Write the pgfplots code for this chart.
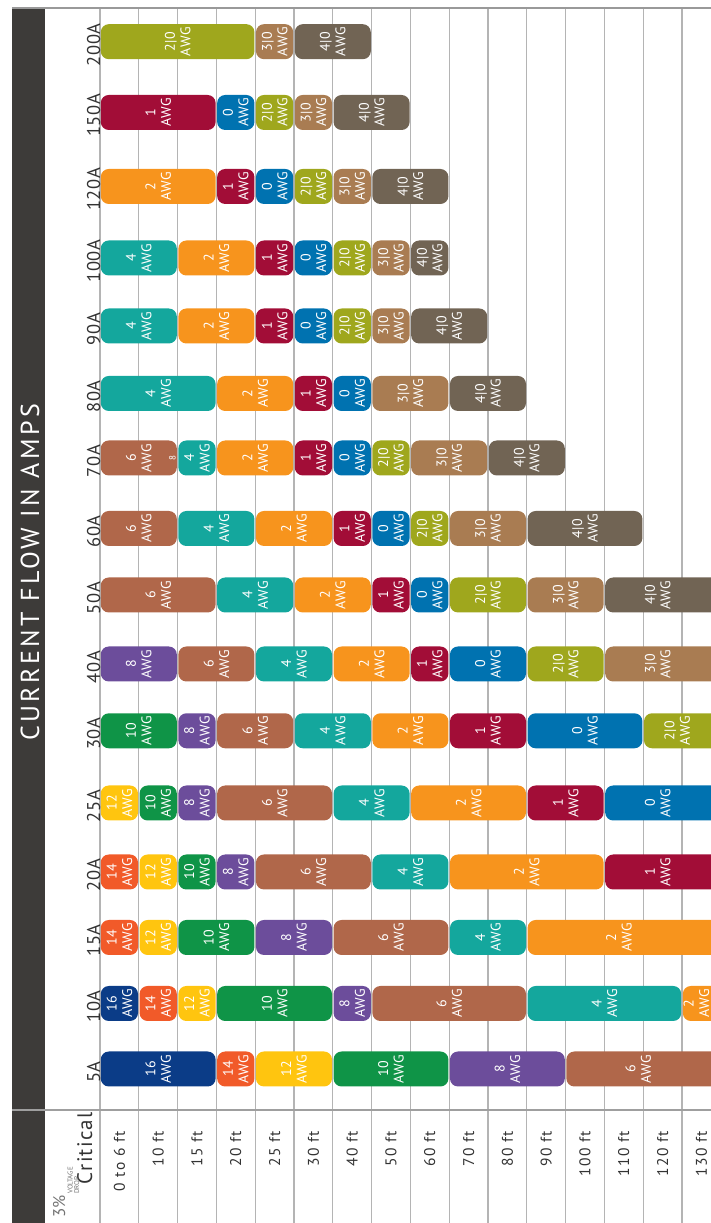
\documentclass[border=0pt]{standalone}
\usepackage{fontspec}
\setmainfont{PT Sans}
\setsansfont{PT Sans}
\usepackage{pgfplots}
\pgfplotsset{compat=1.18}
\definecolor{g16}{HTML}{0B3C87}
\definecolor{g14}{HTML}{F15A29}
\definecolor{g12}{HTML}{FFC50F}
\definecolor{g10}{HTML}{0F9447}
\definecolor{g8}{HTML}{6C4D9B}
\definecolor{g6}{HTML}{B0674A}
\definecolor{g4}{HTML}{14A79D}
\definecolor{g2}{HTML}{F7941D}
\definecolor{g1}{HTML}{A20D37}
\definecolor{g0}{HTML}{0072B0}
\definecolor{g20}{HTML}{9FA71D}
\definecolor{g30}{HTML}{A97C52}
\definecolor{g40}{HTML}{716454}
\definecolor{band}{HTML}{3D3B39}
\definecolor{gridc}{HTML}{B4B4B4}
\definecolor{txt}{HTML}{333333}
\tikzset{lbl/.style={text=white, rotate=90, align=center, inner sep=0pt,
  font=\fontsize{14}{15.5}\selectfont\addfontfeatures{LetterSpace=4}},
  amp/.style={rotate=90, anchor=base, inner sep=0pt, xshift=-3pt, text=txt,
  font=\fontsize{18.5}{18.5}\selectfont\addfontfeatures{LetterSpace=3}}}
\newcommand\B[5]{%
  \pgfmathsetmacro\BYa{#3-17.5}\pgfmathsetmacro\BYb{#3+17.5}%
  \pgfmathsetmacro\BXa{#1+0.02}\pgfmathsetmacro\BXb{#2-0.02}%
  \addplot[fill=#4, draw=none, rounded corners=8pt] coordinates {(\BXa,\BYa) (\BXb,\BYa) (\BXb,\BYb) (\BXa,\BYb)} -- cycle;
  \node[lbl] at (axis cs:{(#1+min(#2,15.747))/2},#3) {#5\\AWG};
}
\begin{document}
\begin{tikzpicture}
\path[use as bounding box] (0pt,0pt) rectangle (711pt,1223pt);
\fill[band] (12pt,0pt) rectangle (45pt,1215pt);
\begin{axis}[at={(100pt,0pt)}, anchor=south west,
  width=611pt, height=1215pt, scale only axis, clip=false,
  xmin=0, xmax=15.747, ymin=0, ymax=1215,
  axis line style={draw=none}, tick style={draw=none}, major tick length=0pt,
  xtick={1,...,15}, xticklabels={}, xmajorgrids,
  extra x ticks={0}, extra x tick labels={},
  extra x tick style={grid style={color=gray!75!black, line width=1.4pt}},
  major grid style={color=gridc, line width=1.1pt},
  ytick=\empty,
]
% 5A
\B{0}{3}{154}{g16}{16}
\B{3}{4}{154}{g14}{14}
\B{4}{6}{154}{g12}{12}
\B{6}{9}{154}{g10}{10}
\B{9}{12}{154}{g8}{8}
\B{12}{17}{154}{g6}{6}
% 10A
\B{0}{1}{219.5}{g16}{16}
\B{1}{2}{219.5}{g14}{14}
\B{2}{3}{219.5}{g12}{12}
\B{3}{6}{219.5}{g10}{10}
\B{6}{7}{219.5}{g8}{8}
\B{7}{11}{219.5}{g6}{6}
\B{11}{15}{219.5}{g4}{4}
\B{15}{17}{219.5}{g2}{2}
% 15A
\B{0}{1}{285.5}{g14}{14}
\B{1}{2}{285.5}{g12}{12}
\B{2}{4}{285.5}{g10}{10}
\B{4}{6}{285.5}{g8}{8}
\B{6}{9}{285.5}{g6}{6}
\B{9}{11}{285.5}{g4}{4}
\B{11}{17}{285.5}{g2}{2}
% 20A
\B{0}{1}{351}{g14}{14}
\B{1}{2}{351}{g12}{12}
\B{2}{3}{351}{g10}{10}
\B{3}{4}{351}{g8}{8}
\B{4}{7}{351}{g6}{6}
\B{7}{9}{351}{g4}{4}
\B{9}{13}{351}{g2}{2}
\B{13}{17}{351}{g1}{1}
% 25A
\B{0}{1}{420}{g12}{12}
\B{1}{2}{420}{g10}{10}
\B{2}{3}{420}{g8}{8}
\B{3}{6}{420}{g6}{6}
\B{6}{8}{420}{g4}{4}
\B{8}{11}{420}{g2}{2}
\B{11}{13}{420}{g1}{1}
\B{13}{17}{420}{g0}{0}
% 30A
\B{0}{2}{492.2}{g10}{10}
\B{2}{3}{492.2}{g8}{8}
\B{3}{5}{492.2}{g6}{6}
\B{5}{7}{492.2}{g4}{4}
\B{7}{9}{492.2}{g2}{2}
\B{9}{11}{492.2}{g1}{1}
\B{11}{14}{492.2}{g0}{0}
\B{14}{17}{492.2}{g20}{2|0}
% 40A
\B{0}{2}{559}{g8}{8}
\B{2}{4}{559}{g6}{6}
\B{4}{6}{559}{g4}{4}
\B{6}{8}{559}{g2}{2}
\B{8}{9}{559}{g1}{1}
\B{9}{11}{559}{g0}{0}
\B{11}{13}{559}{g20}{2|0}
\B{13}{17}{559}{g30}{3|0}
% 50A
\B{0}{3}{628}{g6}{6}
\B{3}{5}{628}{g4}{4}
\B{5}{7}{628}{g2}{2}
\B{7}{8}{628}{g1}{1}
\B{8}{9}{628}{g0}{0}
\B{9}{11}{628}{g20}{2|0}
\B{11}{13}{628}{g30}{3|0}
\B{13}{17}{628}{g40}{4|0}
% 60A
\B{0}{2}{694.5}{g6}{6}
\B{2}{4}{694.5}{g4}{4}
\B{4}{6}{694.5}{g2}{2}
\B{6}{7}{694.5}{g1}{1}
\B{7}{8}{694.5}{g0}{0}
\B{8}{9}{694.5}{g20}{2|0}
\B{9}{11}{694.5}{g30}{3|0}
\B{11}{14}{694.5}{g40}{4|0}
% 70A
\B{0}{2}{765}{g6}{6}
\B{2}{3}{765}{g4}{4}
\B{3}{5}{765}{g2}{2}
\B{5}{6}{765}{g1}{1}
\B{6}{7}{765}{g0}{0}
\B{7}{8}{765}{g20}{2|0}
\B{8}{10}{765}{g30}{3|0}
\B{10}{12}{765}{g40}{4|0}
\node[text=white, rotate=90, inner sep=0pt, font=\fontsize{9}{9}\selectfont] at (axis cs:1.87,765) {8};
% 80A
\B{0}{3}{829.5}{g4}{4}
\B{3}{5}{829.5}{g2}{2}
\B{5}{6}{829.5}{g1}{1}
\B{6}{7}{829.5}{g0}{0}
\B{7}{9}{829.5}{g30}{3|0}
\B{9}{11}{829.5}{g40}{4|0}
% 90A
\B{0}{2}{897}{g4}{4}
\B{2}{4}{897}{g2}{2}
\B{4}{5}{897}{g1}{1}
\B{5}{6}{897}{g0}{0}
\B{6}{7}{897}{g20}{2|0}
\B{7}{8}{897}{g30}{3|0}
\B{8}{10}{897}{g40}{4|0}
% 100A
\B{0}{2}{965}{g4}{4}
\B{2}{4}{965}{g2}{2}
\B{4}{5}{965}{g1}{1}
\B{5}{6}{965}{g0}{0}
\B{6}{7}{965}{g20}{2|0}
\B{7}{8}{965}{g30}{3|0}
\B{8}{9}{965}{g40}{4|0}
% 120A
\B{0}{3}{1036.5}{g2}{2}
\B{3}{4}{1036.5}{g1}{1}
\B{4}{5}{1036.5}{g0}{0}
\B{5}{6}{1036.5}{g20}{2|0}
\B{6}{7}{1036.5}{g30}{3|0}
\B{7}{9}{1036.5}{g40}{4|0}
% 150A
\B{0}{3}{1110.5}{g1}{1}
\B{3}{4}{1110.5}{g0}{0}
\B{4}{5}{1110.5}{g20}{2|0}
\B{5}{6}{1110.5}{g30}{3|0}
\B{6}{8}{1110.5}{g40}{4|0}
% 200A
\B{0}{4}{1181.3}{g20}{2|0}
\B{4}{5}{1181.3}{g30}{3|0}
\B{5}{7}{1181.3}{g40}{4|0}
% amp labels
\node[amp] at (axis cs:0,154) {5A};
\node[amp] at (axis cs:0,219.5) {10A};
\node[amp] at (axis cs:0,285.5) {15A};
\node[amp] at (axis cs:0,351) {20A};
\node[amp] at (axis cs:0,420) {25A};
\node[amp] at (axis cs:0,492.2) {30A};
\node[amp] at (axis cs:0,559) {40A};
\node[amp] at (axis cs:0,628) {50A};
\node[amp] at (axis cs:0,694.5) {60A};
\node[amp] at (axis cs:0,765) {70A};
\node[amp] at (axis cs:0,829.5) {80A};
\node[amp] at (axis cs:0,897) {90A};
\node[amp] at (axis cs:0,965) {100A};
\node[amp] at (axis cs:0,1036.5) {120A};
\node[amp] at (axis cs:0,1110.5) {150A};
\node[amp] at (axis cs:0,1181.3) {200A};
% distance labels
\foreach \lab [count=\i from 0] in {0 to 6 ft,10 ft,15 ft,20 ft,25 ft,30 ft,40 ft,50 ft,60 ft,70 ft,80 ft,90 ft,100 ft,110 ft,120 ft,130 ft}{
  \edef\tmp{\noexpand\node[rotate=90, anchor=east, inner sep=0pt, text=txt,
    font=\noexpand\fontsize{15.5}{15.5}\noexpand\selectfont\noexpand\addfontfeatures{LetterSpace=10}]
    at (axis cs:\i+0.5,92) {\lab};}\tmp
}
\end{axis}
\draw[color=gray!80, line width=1.5pt] (12pt,1215pt) -- (711pt,1215pt);
\draw[color=gray!75, line width=2pt] (12pt,113pt) -- (711pt,113pt);
\node[text=white, rotate=90, inner sep=0pt,
  font=\fontsize{26}{26}\selectfont\addfontfeatures{LetterSpace=13}] at (30pt,650.5pt) {CURRENT FLOW IN AMPS};
\node[rotate=90, anchor=base east, inner sep=0pt, text=txt, font=\fontsize{21}{21}\selectfont\addfontfeatures{LetterSpace=6}] at (92pt,111pt) {Critical};
\node[rotate=90, anchor=base west, inner sep=0pt, text=gray!90!black, font=\fontsize{17}{17}\selectfont] at (65pt,5pt) {3\%};
\node[rotate=90, anchor=base west, inner sep=0pt, text=gray!90!black, font=\fontsize{7}{7}\selectfont] at (72.5pt,29pt) {VOLTAGE};
\node[rotate=90, anchor=base west, inner sep=0pt, text=gray!90!black, font=\fontsize{7}{7}\selectfont] at (79pt,29pt) {DROP};
\end{tikzpicture}
\end{document}
